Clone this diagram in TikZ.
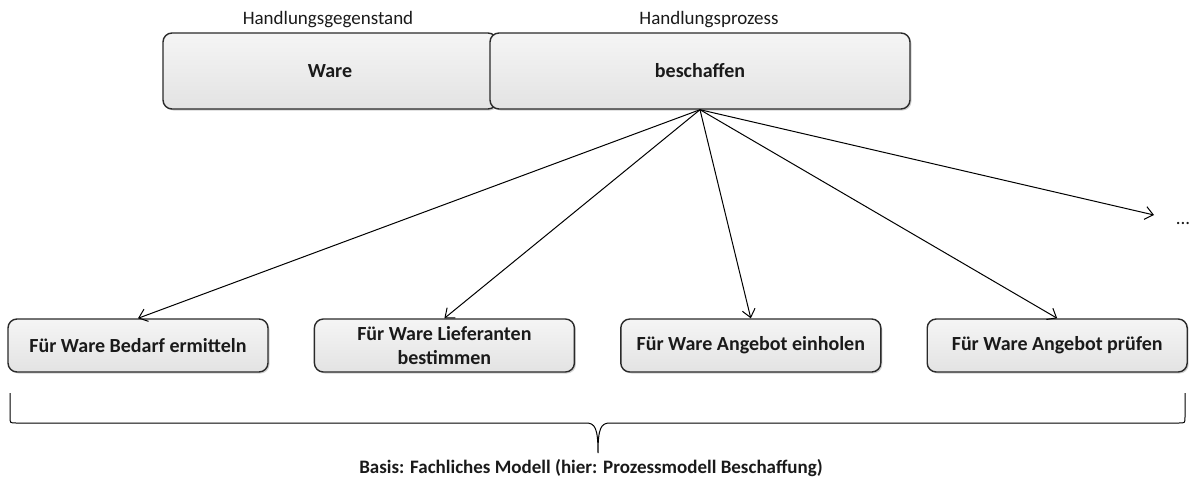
\documentclass[tikz,border=0pt]{standalone}
\usepackage{fontspec}
\setmainfont{Carlito}
\usepackage{xcolor}
\usepackage{tikz}
\usetikzlibrary{arrows.meta,positioning,shadows}
\definecolor{BoxLine}{HTML}{2A2A2A}
\definecolor{TxtDark}{HTML}{1A1A1A}

\begin{document}
\begin{tikzpicture}[
  x=1pt,y=-1pt,
  box/.style={draw=BoxLine,line width=1.4pt,rounded corners=9pt,
    top color=gray!8,bottom color=gray!22,
    drop shadow={opacity=0.35,shadow xshift=1.5pt,shadow yshift=-1.5pt},
    align=center,inner sep=0pt,text=TxtDark,
    font=\fontsize{20}{24}\selectfont\bfseries},
  headbox/.style={box,minimum height=76pt},
  taskbox/.style={box,minimum height=53pt,minimum width=260pt},
  lbl/.style={text=TxtDark,font=\fontsize{19}{23}\selectfont},
  a/.style={-{Straight Barb[length=8pt,width=13pt]},line width=1pt,color=black}
]
  \useasboundingbox (0,0) rectangle (1192,482);
  % Kopfzeile
  \node[headbox,minimum width=334pt] (ware) at (330,71) {Ware};
  \node[headbox,minimum width=420pt] (besch) at (700,71) {beschaffen};
  \node[lbl] (gegenstand) at (328,20) {Handlungsgegenstand};
  \node[lbl] (prozess) at (709,20) {Handlungsprozess};
  % Teilprozesse
  \node[taskbox] (bedarf) at (138,345.5) {Für Ware Bedarf ermitteln};
  \node[taskbox,right=45pt of bedarf] (lief) {Für Ware Lieferanten\\bestimmen};
  \node[taskbox,right=45pt of lief] (einholen) {Für Ware Angebot einholen};
  \node[taskbox,right=45pt of einholen] (pruefen) {Für Ware Angebot prüfen};
  \node[lbl] (dots) at (1183,223) {...};
  \coordinate (weiter) at (1154,215);
  \draw[a] (besch.south) -- (bedarf.north);
  \draw[a] (besch.south) -- (lief.north);
  \draw[a] (besch.south) -- (einholen.north);
  \draw[a] (besch.south) -- (pruefen.north);
  \draw[a] (besch.south) -- (weiter);
  % Klammer
  \draw[line width=1pt,color=black]
    (10,393) -- (10,417) .. controls (10,423) .. (16,423) -- (586,423)
    .. controls (595,423) and (598,428) .. (598,453)
    .. controls (598,428) and (601,423) .. (610,423) -- (1179,423)
    .. controls (1185,423) .. (1185,417) -- (1185,393);
  \node[lbl,font=\fontsize{19}{23}\selectfont\bfseries] (basis) at (591,468)
    {Basis: Fachliches Modell (hier: Prozessmodell Beschaffung)};
\end{tikzpicture}
\end{document}
